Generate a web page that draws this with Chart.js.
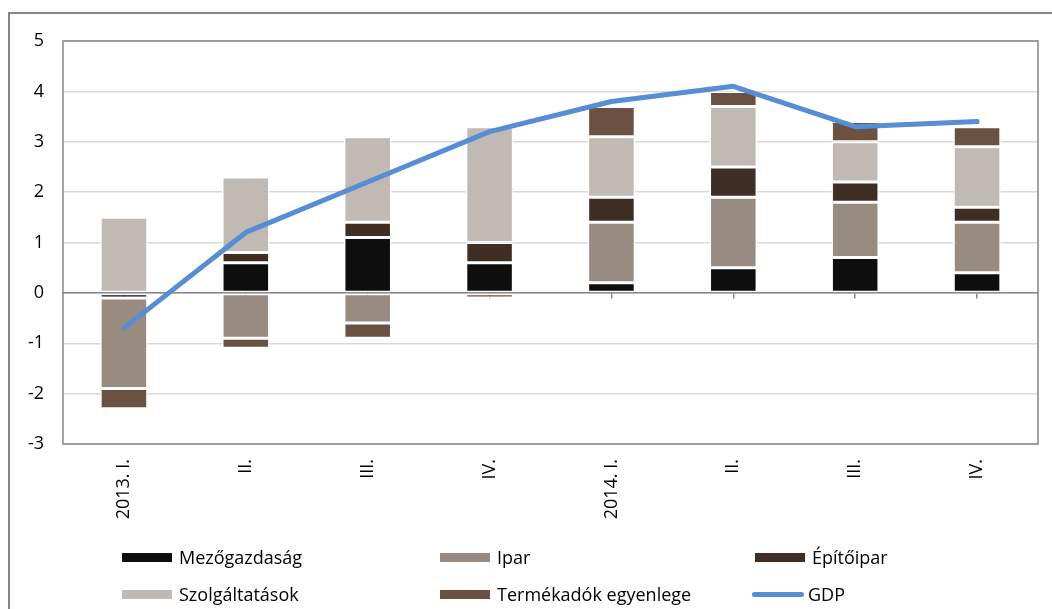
<!DOCTYPE html>
<html lang="hu">
<head>
<meta charset="utf-8">
<script src="https://cdn.jsdelivr.net/npm/chart.js@4.4.1/dist/chart.umd.min.js"></script>
<style>
  html, body { margin: 0; padding: 0; background: #fff; overflow: hidden; }
  body { width: 1052px; height: 609px; position: relative;
         font-family: "Open Sans", "Noto Sans", sans-serif; }
  #frameLeft { position: absolute; left: 8px; top: 12px; width: 2px; height: 597px; background: #868686; }
  #frameTop { position: absolute; left: 8px; top: 12px; width: 1044px; height: 2px; background: #868686; }
  #wrap { position: absolute; left: 0; top: 0; width: 1052px; height: 609px; }
  #legend { position: absolute; left: 0; top: 0; width: 1052px; height: 609px; pointer-events: none; }
  .item { position: absolute; display: flex; align-items: center; font-size: 18px; color: #000; white-space: nowrap; }
  .sw { width: 50px; height: 9px; margin-right: 7px; }
  .ln { width: 52px; height: 5px; border-radius: 3px; margin-right: 4px; }
</style>
</head>
<body>
<div id="frameLeft"></div>
<div id="frameTop"></div>
<div id="wrap"><canvas id="c" width="1052" height="609"></canvas></div>
<div id="legend"></div>
<script>
// Negyedévek
const categories = ["2013. I.", "II.", "III.", "IV.", "2014. I.", "II.", "III.", "IV."];

// Ágazati hozzájárulások (százalékpont)
const mezogazdasag = [-0.1, 0.6, 1.1, 0.6, 0.2, 0.5, 0.7, 0.4];
const ipar         = [-1.8, -0.9, -0.6, 0.0, 1.2, 1.4, 1.1, 1.0];
const epitoipar    = [0.0, 0.2, 0.3, 0.4, 0.5, 0.6, 0.4, 0.3];
const szolgaltatas = [1.5, 1.5, 1.7, 2.3, 1.2, 1.2, 0.8, 1.2];
const termekadok   = [-0.4, -0.2, -0.3, -0.1, 0.6, 0.3, 0.4, 0.4];
const gdp          = [-0.7, 1.2, 2.2, 3.2, 3.8, 4.1, 3.3, 3.4];

const yTicks = [5, 4, 3, 2, 1, 0, -1, -2, -3];

const barSeries = [
  { label: "Mezőgazdaság", data: mezogazdasag, color: "#0e0e0e" },
  { label: "Ipar", data: ipar, color: "#988b80" },
  { label: "Építőipar", data: epitoipar, color: "#3f2e24" },
  { label: "Szolgáltatások", data: szolgaltatas, color: "#c1b9b3" },
  { label: "Termékadók egyenlege", data: termekadok, color: "#6a5141" }
];

const datasets = barSeries.map(s => ({
  type: "bar",
  label: s.label,
  data: s.data,
  backgroundColor: s.color,
  borderColor: "#ffffff",
  borderWidth: 1.5,
  borderSkipped: false,
  categoryPercentage: 1,
  barPercentage: 0.39,
  stack: "agazatok",
  order: 2
}));
datasets.push({
  type: "line",
  label: "GDP",
  data: gdp,
  borderColor: "#558ed5",
  backgroundColor: "#558ed5",
  borderWidth: 5,
  borderCapStyle: "round",
  borderJoinStyle: "round",
  pointRadius: 0,
  tension: 0,
  stack: "gdp",
  order: 0
});

const fontSpec = { family: "'Open Sans', 'Noto Sans', sans-serif", size: 18 };

// Plot area outline drawn over the grid
const plotFrame = {
  id: "plotFrame",
  afterDraw(chart) {
    const a = chart.chartArea, ctx = chart.ctx;
    ctx.save();
    ctx.strokeStyle = "#868686";
    ctx.lineWidth = 1.5;
    ctx.strokeRect(a.left, a.top, a.right - a.left, a.bottom - a.top);
    ctx.restore();
  }
};

const chart = new Chart(document.getElementById("c"), {
  data: { labels: categories, datasets },
  plugins: [plotFrame],
  options: {
    responsive: false,
    animation: false,
    events: [],
    layout: { padding: { top: 41, right: 14, bottom: 0, left: 0 } },
    plugins: { legend: { display: false }, tooltip: { enabled: false }, title: { display: false } },
    scales: {
      x: {
        type: "category",
        stacked: true,
        offset: true,
        position: "bottom",
        grid: { display: false, drawTicks: false },
        border: { display: false },
        ticks: { font: fontSpec, color: "#000", maxRotation: 90, minRotation: 90, padding: 15, autoSkip: false },
        afterFit(scale) { scale.height = 609 - 444; }
      },
      xZero: {
        type: "category",
        offset: true,
        position: { y: 0 },
        grid: { drawOnChartArea: false, drawTicks: true, tickLength: 5, color: "#868686", lineWidth: 1.5 },
        border: { display: true, color: "#868686", width: 1.5 },
        ticks: { display: false }
      },
      y: {
        stacked: true,
        min: -3,
        max: 5,
        afterBuildTicks(scale) { scale.ticks = yTicks.map(v => ({ value: v })); },
        grid: {
          color: "#d9d9d9",
          lineWidth: 1.5,
          drawTicks: false
        },
        border: { display: false },
        ticks: { font: fontSpec, color: "#000", padding: 19 },
        afterFit(scale) { scale.width = 63; }
      }
    }
  }
});

// Legend in three columns, built from the chart's datasets
const legendPos = [
  { x: 122, y: 557 }, { x: 440, y: 557 }, { x: 755, y: 557 },
  { x: 122, y: 594 }, { x: 440, y: 594 }, { x: 752, y: 594 }
];
const legend = document.getElementById("legend");
chart.data.datasets.forEach((ds, k) => {
  const p = legendPos[k];
  const item = document.createElement("div");
  item.className = "item";
  item.style.left = p.x + "px";
  item.style.top = (p.y - 12) + "px";
  item.style.height = "24px";
  const sw = document.createElement("span");
  if (ds.type === "line") {
    sw.className = "ln";
    sw.style.background = ds.borderColor;
  } else {
    sw.className = "sw";
    sw.style.background = ds.backgroundColor;
  }
  const tx = document.createElement("span");
  tx.textContent = ds.label;
  item.appendChild(sw);
  item.appendChild(tx);
  legend.appendChild(item);
});
</script>
</body>
</html>
